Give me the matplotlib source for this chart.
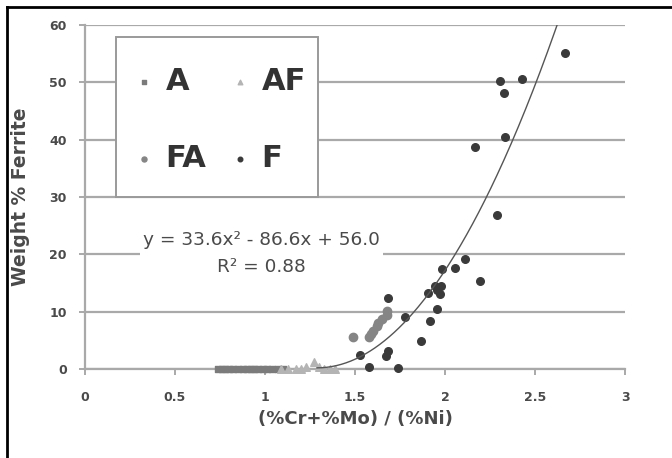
import matplotlib
matplotlib.use("Agg")
import matplotlib.pyplot as plt
import numpy as np
from matplotlib.lines import Line2D
from matplotlib.patches import Rectangle

# --- data -------------------------------------------------------------
a_x = [0.74, 0.76, 0.78, 0.80, 0.82, 0.85, 0.88, 0.90, 0.92, 0.94,
       0.96, 0.99, 1.01, 1.04, 1.07, 1.10]
a_y = [0, 0, 0, 0, 0, 0, 0, 0, 0, 0, 0, 0, 0, 0, 0, 0]

af_x = [1.09, 1.13, 1.17, 1.20, 1.23, 1.27, 1.30, 1.33, 1.36, 1.39]
af_y = [0, 0, 0, 0, 0.3, 1.2, 0.3, 0, 0, 0]

fa_x = [1.49, 1.58, 1.59, 1.60, 1.62, 1.63, 1.65, 1.68, 1.68]
fa_y = [5.5, 5.5, 6.1, 6.6, 7.5, 8.1, 8.7, 9.5, 10.1]

f_x = [2.667, 2.306, 2.425, 2.330, 2.335, 2.164, 2.287, 2.109, 2.192,
       2.055, 1.986, 1.979, 1.955, 1.943, 1.907, 1.974, 1.955, 1.919,
       1.867, 1.777, 1.686, 1.682, 1.670, 1.741, 1.580, 1.527]
f_y = [55.1, 50.2, 50.5, 48.1, 40.5, 38.8, 26.8, 19.2, 15.4,
       17.7, 17.4, 14.4, 13.8, 14.5, 13.3, 13.0, 10.4, 8.4,
       4.8, 9.1, 12.3, 3.2, 2.2, 0.1, 0.4, 2.4]

# quadratic trend: y = c2*x^2 + c1*x + c0
coef = [33.6, -86.6, 56.0]
r2 = 0.88

x_ticks = [0, 0.5, 1, 1.5, 2, 2.5, 3]
y_ticks = [0, 10, 20, 30, 40, 50, 60]

# --- figure -----------------------------------------------------------
W, H = 672, 458
fig = plt.figure(figsize=(W / 100, H / 100), dpi=100)
ax = fig.add_axes([85 / W, 1 - 369 / H, 540 / W, 344 / H])

grid_c = "#a9a9a9"
txt_c = "#4a4a4a"

ax.set_xlim(0, 3)
ax.set_ylim(0, 60)
ax.set_xticks(x_ticks)
ax.set_xticklabels([f"{t:g}" for t in x_ticks])
ax.set_yticks(y_ticks)
ax.yaxis.grid(True, color=grid_c, linewidth=1.6, zorder=0)
ax.set_axisbelow(True)
for s in ("top", "right"):
    ax.spines[s].set_visible(False)
for s in ("left", "bottom"):
    ax.spines[s].set_color(grid_c)
    ax.spines[s].set_linewidth(1.6)
ax.tick_params(axis="both", direction="out", length=4, width=1.4,
               color=grid_c, labelcolor=txt_c, labelsize=9)
ax.tick_params(axis="x", pad=12)
ax.tick_params(axis="y", pad=9)
for lab in ax.get_xticklabels() + ax.get_yticklabels():
    lab.set_fontweight("bold")

ax.set_xlabel("(%Cr+%Mo) / (%Ni)", fontsize=13, fontweight="bold",
              color=txt_c, labelpad=4)
ax.set_ylabel("Weight % Ferrite", fontsize=13.5, fontweight="bold",
              color=txt_c, labelpad=14)

ms = 30
h_a = ax.scatter(a_x, a_y, marker="s", s=ms * 0.8, color="#7b7b7b",
                 zorder=3, clip_on=False, label="A")
h_af = ax.scatter(af_x, af_y, marker="^", s=ms, color="#b4b4b4",
                  zorder=3, clip_on=False, label="AF")
h_fa = ax.scatter(fa_x, fa_y, marker="o", s=ms * 1.2, color="#858585",
                  zorder=3, clip_on=False, label="FA")
h_f = ax.scatter(f_x, f_y, marker="o", s=ms, color="#3a3a3a",
                 zorder=3, clip_on=False, label="F")

# trend curve, from the vertex up to the top of the axis
xv = -coef[1] / (2 * coef[0])
x_top = (-coef[1] + np.sqrt(coef[1] ** 2 - 4 * coef[0] * (coef[2] - 60))) / (2 * coef[0])
xc = np.linspace(xv, x_top, 200)
yc = np.polyval(coef, xc)
ax.plot(xc, yc, color="#555555", linewidth=1.0, zorder=4)

ax.text(0.98, 20.2,
        f"y = {coef[0]:.1f}x² - {-coef[1]:.1f}x + {coef[2]:.1f}\nR² = {r2:.2f}",
        ha="center", va="center", fontsize=13.3, color=txt_c,
        linespacing=1.65, zorder=2,
        bbox=dict(facecolor="white", edgecolor="none", pad=2))

# legend box
box = Rectangle((116 / W, 1 - 197 / H), 202 / W, 160 / H,
                transform=fig.transFigure, facecolor="white",
                edgecolor="#9a9a9a", linewidth=1.4, zorder=5)
fig.add_artist(box)
leg = fig.legend([h_a, h_fa, h_af, h_f], ["A", "FA", "AF", "F"],
                 loc="center", bbox_to_anchor=(222 / W, 1 - 120 / H),
                 ncol=2, frameon=False, fontsize=22, markerscale=0.6,
                 handlelength=0.4, handletextpad=0.5, columnspacing=0.9,
                 labelspacing=1.6, borderpad=0, borderaxespad=0)
leg.set_zorder(6)
for t in leg.get_texts():
    t.set_fontweight("bold")
    t.set_color("#333333")

# outer frame on the top and left edges
fig.add_artist(Line2D([7 / W, 7 / W], [0, 1 - 7 / H], color="black",
                      linewidth=2, transform=fig.transFigure))
fig.add_artist(Line2D([7 / W, 1], [1 - 7 / H, 1 - 7 / H], color="black",
                      linewidth=2, transform=fig.transFigure))

fig.savefig("out.png", dpi=100)
